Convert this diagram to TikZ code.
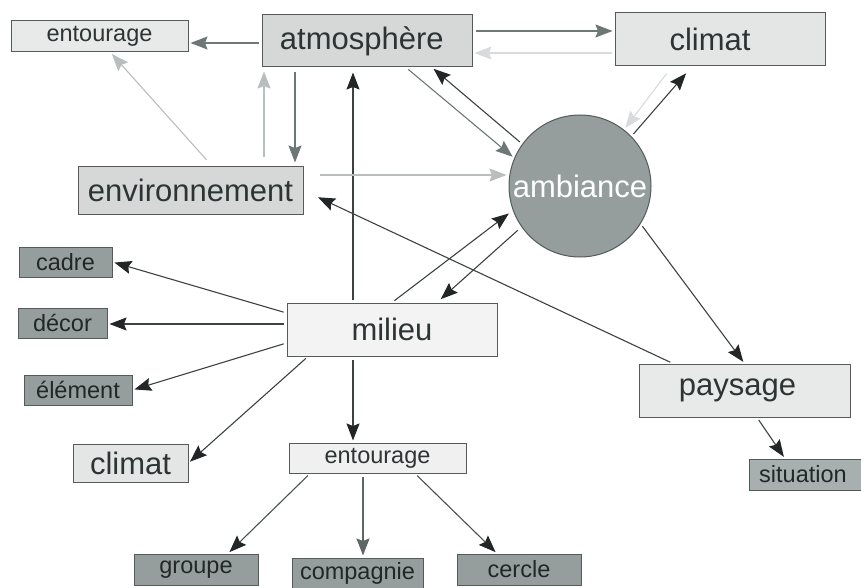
\documentclass[tikz,border=0pt]{standalone}
\usepackage{fontspec}
\setmainfont{Liberation Sans}
\definecolor{fillpale}{RGB}{243, 243, 243}
\definecolor{filllight}{RGB}{232, 233, 233}
\definecolor{fillmid}{RGB}{214, 216, 216}
\definecolor{filldark}{RGB}{149, 158, 157}
\definecolor{fillsit}{RGB}{168, 175, 175}
\definecolor{edgegray}{RGB}{85, 90, 90}
\definecolor{inkdark}{RGB}{34, 38, 38}
\definecolor{inkline}{RGB}{60, 66, 66}
\definecolor{inkmid}{RGB}{108, 119, 118}
\definecolor{inklight}{RGB}{184, 189, 189}
\definecolor{inkpale}{RGB}{216, 219, 219}
\definecolor{textgray}{RGB}{45, 52, 52}
\usepackage{tikz}
\usetikzlibrary{arrows.meta, positioning, calc}
\tikzset{
    box/.style={draw=edgegray, line width=1pt, rectangle, inner sep=0pt, text=textgray, align=center},
    bigbox/.style={box, minimum width=210, minimum height=53, font=\fontsize{31}{36}\selectfont},
    smallbox/.style={box, minimum height=30, font=\fontsize{23.5}{27}\selectfont},
    darkbox/.style={smallbox, fill=filldark, text=inkdark},
    hub/.style={draw=edgegray, line width=1pt, circle, fill=filldark, minimum size=142, inner sep=0pt, text=white, font=\fontsize{31}{36}\selectfont},
    link/.style={line width=1.1pt, -{Stealth[length=17pt, width=13pt, inset=2.5pt]}, shorten <=3pt, shorten >=2pt},
    darklink/.style={link, draw=inkline, -{Stealth[length=17pt, width=13pt, inset=2.5pt, color=inkdark]}},
    midlink/.style={link, draw=inkmid},
    lightlink/.style={link, draw=inklight},
    palelink/.style={link, draw=inkpale},
}

\begin{document}
\begin{tikzpicture}[x=1pt, y=-1pt]
    \useasboundingbox (0,0) rectangle (861,588);

    % upper part
    \node[smallbox, fill=filllight, minimum width=177, minimum height=31] (entT) at (99.5,36.5) {entourage};
    \node[bigbox, fill=fillmid, minimum height=52] (atmo) at (367,41) {atmosphère\,\,};
    \node[bigbox, fill=filllight!80!fillmid] (climT) at (720,39.5) {climat\hspace{20pt}};
    \node[bigbox, fill=fillmid, minimum width=225, minimum height=47] (env) at (190.5,190.5) {environnement};
    \node[hub] (amb) at (580,186) {ambiance};

    % middle
    \node[bigbox, fill=fillpale] (mil) at (392,329.5) {milieu};
    \node[bigbox, fill=filllight, minimum width=211] (pay) at (744.5,390.5) {paysage\hspace{14pt}};
    \node[darkbox, minimum width=93] (cadre) at (65.5,262) {cadre};
    \node[darkbox, minimum width=89] (decor) at (62.5,323) {décor};
    \node[darkbox, minimum width=108] (elem) at (78,390) {élément};
    \node[bigbox, fill=filllight!80!fillmid, minimum width=115, minimum height=38] (climB) at (130.5,463) {climat};
    \node[smallbox, fill=fillpale!70!filllight, minimum width=177] (entB) at (377.5,458) {entourage};
    \node[smallbox, fill=fillsit, text=inkdark, minimum width=114, minimum height=31] (sit) at (806,474.5) {situation\hspace{6pt}};

    % bottom
    \node[darkbox, minimum width=124, minimum height=31] (groupe) at (196,569.5) {groupe};
    \node[darkbox, minimum width=131, minimum height=31] (comp) at (357.5,573.5) {compagnie};
    \node[darkbox, minimum width=124, minimum height=31] (cercle) at (519,569.5) {cercle};

    % links around atmosphere
    \draw[midlink] ([yshift=-2]atmo.west) -- ([yshift=-2]atmo.west -| entT.east);
    \draw[midlink] ([yshift=10]atmo.east) -- ([yshift=10]atmo.east -| climT.west);
    \draw[palelink] ([yshift=-13.5]climT.west) -- ([yshift=-13.5]climT.west -| atmo.east);
    \draw[lightlink, shorten <=9pt] ([xshift=22]env.north) -- ([xshift=11]entT.south);
    \draw[lightlink, shorten <=9pt, shorten >=4pt] ([xshift=73.5]env.north) -- ([xshift=73.5]env.north |- atmo.south);
    \draw[midlink, shorten <=5pt, shorten >=4pt] ([xshift=104.5]env.north |- atmo.south) -- ([xshift=104.5]env.north);
    \draw[darklink, shorten >=5pt] ([xshift=-39]mil.north) -- ([xshift=-39]mil.north |- atmo.south);
    \draw[midlink] ([xshift=39]atmo.south) -- (amb.157);
    \draw[darklink] (amb.144) -- ([xshift=65]atmo.south);

    % links around ambiance
    \draw[palelink, shorten <=9pt] ([xshift=-48]climT.south) -- (amb.52);
    \draw[darklink, shorten >=9pt] (amb.44) -- ([xshift=-28]climT.south);
    \draw[lightlink, shorten <=16pt] ([yshift=15.5]env.east) -- ([yshift=15.5]env.east -| amb.west);
    \draw[darklink, shorten >=16pt] ([xshift=-71.5]pay.north) -- (env.east);
    \draw[darklink, shorten <=3pt, shorten >=5pt] (mil.north) -- (amb.200);
    \draw[darklink, shorten <=5pt, shorten >=5pt] (amb.215) -- ([xshift=45]mil.north);
    \draw[darklink] (amb.328) -- (pay.north);
    \draw[darklink] ([xshift=12.5]pay.south) -- ([xshift=-21]sit.north);

    % links from milieu
    \draw[darklink] ([yshift=16.5]mil.west) -- (cadre.east);
    \draw[darklink] ([yshift=5.5]mil.west) -- ([yshift=5.5]mil.west -| decor.east);
    \draw[darklink] ([yshift=-13.5]mil.west) -- (elem.east);
    \draw[darklink] ([xshift=-84]mil.south) -- (climB.east);
    \draw[darklink] ([xshift=-39]mil.south) -- ([xshift=-39]mil.south |- entB.north);

    % links from entourage
    \draw[darklink, draw=inkline!70!inkmid] ([xshift=-67.5]entB.south) -- ([xshift=32]groupe.north);
    \draw[midlink, draw=inkmid!80!inkdark] ([xshift=-14.5]entB.south) -- ([xshift=-14.5]entB.south |- comp.north);
    \draw[darklink, draw=inkline!70!inkmid] ([xshift=37.5]entB.south) -- ([xshift=-22]cercle.north);
\end{tikzpicture}
\end{document}
